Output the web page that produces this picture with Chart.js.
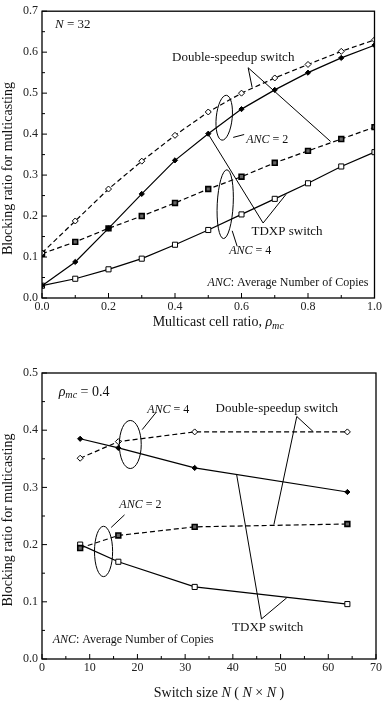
<!DOCTYPE html>
<html><head><meta charset="utf-8">
<script src="https://cdn.jsdelivr.net/npm/chart.js@4.4.1/dist/chart.umd.min.js"></script>
<style>
html,body{margin:0;padding:0;background:#fff;width:384px;height:701px;overflow:hidden}
#c1{position:absolute;left:0;top:0}
#c2{position:absolute;left:0;top:345px}
</style>
</head><body>
<canvas id="c1" width="384" height="345"></canvas>
<canvas id="c2" width="384" height="356"></canvas>
<script>
// ---------- Top chart data (N = 32) ----------
const rhoMc = [0.0, 0.1, 0.2, 0.3, 0.4, 0.5, 0.6, 0.7, 0.8, 0.9, 1.0];
const topDoubleANC2 = [0.110, 0.188, 0.266, 0.334, 0.397, 0.454, 0.500, 0.537, 0.570, 0.602, 0.630];
const topTdxpANC2   = [0.030, 0.088, 0.170, 0.254, 0.336, 0.401, 0.461, 0.508, 0.550, 0.586, 0.617];
const topDoubleANC4 = [0.108, 0.137, 0.170, 0.200, 0.232, 0.266, 0.296, 0.330, 0.359, 0.388, 0.417];
const topTdxpANC4   = [0.030, 0.047, 0.070, 0.096, 0.130, 0.166, 0.204, 0.242, 0.280, 0.321, 0.356];

// ---------- Bottom chart data (rho_mc = 0.4) ----------
const switchSizes = [8, 16, 32, 64];
const botDoubleANC4 = [0.351, 0.380, 0.397, 0.397];
const botTdxpANC4   = [0.385, 0.369, 0.334, 0.292];
const botDoubleANC2 = [0.194, 0.216, 0.231, 0.236];
const botTdxpANC2   = [0.200, 0.170, 0.126, 0.096];

const SERIF = '"Liberation Serif", "DejaVu Serif", serif';

const styles = {
  openDiamond:  {pointStyle:'rectRot', pointRadius:3, pointBackgroundColor:'#fff', pointBorderColor:'#000', pointBorderWidth:1, borderDash:[5,3]},
  fillDiamond:  {pointStyle:'rectRot', pointRadius:2.6, pointBackgroundColor:'#000', pointBorderColor:'#000', pointBorderWidth:1, borderDash:[]},
  fillSquare:   {pointStyle:'rect', pointRadius:3.4, pointBackgroundColor:'#666', pointBorderColor:'#000', pointBorderWidth:1.6, borderDash:[5,3]},
  openSquare:   {pointStyle:'rect', pointRadius:3.6, pointBackgroundColor:'#fff', pointBorderColor:'#000', pointBorderWidth:1, borderDash:[]}
};

function ds(label, xs, ys, st) {
  return Object.assign({
    label, data: xs.map((x, i) => ({x, y: ys[i]})),
    borderColor:'#000', borderWidth:1.2, fill:false, tension:0, showLine:true
  }, st);
}

function rich(ctx, parts, x, y, align, size) {
  const fontFor = p => (p.i ? 'italic ' : '') + (p.sub ? size * 0.72 : size) + 'px ' + SERIF;
  let w = 0;
  parts.forEach(p => { ctx.font = fontFor(p); w += ctx.measureText(p.t).width; });
  let cx = align === 'center' ? x - w / 2 : (align === 'right' ? x - w : x);
  ctx.textBaseline = 'middle';
  ctx.textAlign = 'left';
  parts.forEach(p => {
    ctx.font = fontFor(p);
    ctx.fillText(p.t, cx, y + (p.sub ? size * 0.28 : 0));
    cx += ctx.measureText(p.t).width;
  });
}

const framePlugin = {
  id: 'frame',
  afterDraw(chart, args, o) {
    const {ctx, chartArea: a, scales: {x, y}} = chart;
    ctx.save();
    ctx.strokeStyle = '#000';
    ctx.fillStyle = '#111';
    // box
    ctx.lineWidth = 1.3;
    ctx.strokeRect(a.left, a.top, a.right - a.left, a.bottom - a.top);
    // inward ticks
    ctx.lineWidth = 1;
    ctx.beginPath();
    for (let v = x.min; v <= x.max + 1e-9; v += o.xMinor) {
      const px = x.getPixelForValue(v);
      const major = Math.abs(Math.round(v / o.xMajor) * o.xMajor - v) < 1e-6;
      ctx.moveTo(px, a.bottom); ctx.lineTo(px, a.bottom - (major ? 5 : 3));
    }
    for (let v = y.min; v <= y.max + 1e-9; v += o.yMinor) {
      const py = y.getPixelForValue(v);
      const major = Math.abs(Math.round(v / o.yMajor) * o.yMajor - v) < 1e-6;
      ctx.moveTo(a.left, py); ctx.lineTo(a.left + (major ? 5 : 3), py);
    }
    ctx.stroke();

    // annotations
    const P = (d) => [x.getPixelForValue(d[0]), y.getPixelForValue(d[1])];
    ctx.lineWidth = 1;
    (o.lines || []).forEach(l => {
      ctx.beginPath();
      l.forEach((d, i) => { const [px, py] = P(d); i ? ctx.lineTo(px, py) : ctx.moveTo(px, py); });
      ctx.stroke();
    });
    (o.ellipses || []).forEach(e => {
      const [cx, cy] = P(e.c);
      const rx = Math.abs(x.getPixelForValue(e.c[0] + e.r[0]) - cx);
      const ry = Math.abs(y.getPixelForValue(e.c[1] + e.r[1]) - cy);
      ctx.beginPath();
      ctx.ellipse(cx, cy, rx, ry, e.rot || 0, 0, Math.PI * 2);
      ctx.stroke();
    });
    (o.texts || []).forEach(t => {
      const [px, py] = P(t.at);
      rich(ctx, t.parts, px, py, t.align, t.size);
    });

    // axis titles
    const cw = chart.width;
    rich(ctx, o.xTitle, (a.left + a.right) / 2 + 10, o.xTitleY, 'center', 14);
    ctx.save();
    ctx.translate(8, (a.top + a.bottom) / 2 + (o.yTitleShift || 0));
    ctx.rotate(-Math.PI / 2);
    rich(ctx, [{t:'Blocking ratio for multicasting'}], 0, 0, 'center', 14);
    ctx.restore();
    ctx.restore();
  }
};

function makeChart(id, datasets, sc, padding, xh, opts) {
  return new Chart(document.getElementById(id), {
    type: 'scatter',
    data: {datasets},
    options: {
      responsive: false, animation: false,
      layout: {padding},
      plugins: {legend:{display:false}, tooltip:{enabled:false}, frame: opts},
      scales: {
        x: {
          type:'linear', min: sc.xmin, max: sc.xmax,
          grid:{display:false, drawTicks:false}, border:{display:false},
          ticks:{stepSize: sc.xstep, padding: 2, color:'#222', font:{family:SERIF, size:12},
                 callback: v => sc.xfmt(v), maxRotation:0, autoSkip:false},
          afterFit: s => { s.height = xh; }
        },
        y: {
          type:'linear', min: sc.ymin, max: sc.ymax,
          grid:{display:false, drawTicks:false}, border:{display:false},
          ticks:{stepSize: sc.ystep, padding: 4, color:'#222', font:{family:SERIF, size:12},
                 callback: v => v.toFixed(1), autoSkip:false},
          afterFit: s => { s.width = 42; }
        }
      }
    },
    plugins: [framePlugin]
  });
}

// ----- top chart -----
makeChart('c1', [
  ds('Double-speedup ANC=2', rhoMc, topDoubleANC2, styles.openDiamond),
  ds('TDXP ANC=2', rhoMc, topTdxpANC2, styles.fillDiamond),
  ds('Double-speedup ANC=4', rhoMc, topDoubleANC4, styles.fillSquare),
  ds('TDXP ANC=4', rhoMc, topTdxpANC4, styles.openSquare)
], {xmin:0, xmax:1, xstep:0.2, xfmt: v => v.toFixed(1), ymin:0, ymax:0.7, ystep:0.1},
{top:7, right:8, left:0, bottom:0}, 47, {
  xMajor:0.2, xMinor:0.1, yMajor:0.1, yMinor:0.05,
  xTitle:[{t:'Multicast cell ratio, '}, {t:'ρ', i:true}, {t:'mc', i:true, sub:true}],
  xTitleY: 322, yTitleShift: 14,
  lines: [
    [[0.632,0.514],[0.620,0.562],[0.868,0.382]],
    [[0.575,0.392],[0.608,0.399]],
    [[0.572,0.164],[0.587,0.126]],
    [[0.5,0.40],[0.665,0.183],[0.734,0.253]]
  ],
  ellipses: [
    {c:[0.548,0.440], r:[0.024,0.055], rot:0.1},
    {c:[0.551,0.229], r:[0.024,0.084], rot:0.05}
  ],
  texts: [
    {at:[0.039,0.668], parts:[{t:'N', i:true},{t:' = 32'}], align:'left', size:13},
    {at:[0.575,0.586], parts:[{t:'Double-speedup switch'}], align:'center', size:13},
    {at:[0.614,0.387], parts:[{t:'ANC', i:true},{t:' = 2'}], align:'left', size:12},
    {at:[0.563,0.114], parts:[{t:'ANC', i:true},{t:' = 4'}], align:'left', size:12},
    {at:[0.737,0.162], parts:[{t:'TDXP switch'}], align:'center', size:13},
    {at:[0.982,0.037], parts:[{t:'ANC', i:true},{t:': Average Number of Copies'}], align:'right', size:12}
  ]
});

// ----- bottom chart -----
makeChart('c2', [
  ds('Double-speedup ANC=4', switchSizes, botDoubleANC4, styles.openDiamond),
  ds('TDXP ANC=4', switchSizes, botTdxpANC4, styles.fillDiamond),
  ds('Double-speedup ANC=2', switchSizes, botDoubleANC2, styles.fillSquare),
  ds('TDXP ANC=2', switchSizes, botTdxpANC2, styles.openSquare)
], {xmin:0, xmax:70, xstep:10, xfmt: v => String(v), ymin:0, ymax:0.5, ystep:0.1},
{top:28, right:6, left:0, bottom:0}, 42, {
  xMajor:10, xMinor:5, yMajor:0.1, yMinor:0.05,
  xTitle:[{t:'Switch size '}, {t:'N', i:true}, {t:' ( '}, {t:'N', i:true}, {t:' × '}, {t:'N', i:true}, {t:' )'}],
  xTitleY: 348, yTitleShift: 4,
  lines: [
    [[56.9,0.397],[53.4,0.424],[48.6,0.235]],
    [[21.0,0.401],[23.9,0.431]],
    [[17.3,0.252],[14.5,0.230]],
    [[40.8,0.322],[46.0,0.070],[51.3,0.107]]
  ],
  ellipses: [
    {c:[18.5,0.375], r:[2.3,0.042], rot:0},
    {c:[12.9,0.188], r:[1.9,0.044], rot:0}
  ],
  texts: [
    {at:[3.49,0.467], parts:[{t:'ρ', i:true},{t:'mc', i:true, sub:true},{t:' = 0.4'}], align:'left', size:14},
    {at:[22.06,0.436], parts:[{t:'ANC', i:true},{t:' = 4'}], align:'left', size:12},
    {at:[49.2,0.438], parts:[{t:'Double-speedup switch'}], align:'center', size:13},
    {at:[16.2,0.270], parts:[{t:'ANC', i:true},{t:' = 2'}], align:'left', size:12},
    {at:[47.3,0.055], parts:[{t:'TDXP switch'}], align:'center', size:13},
    {at:[2.23,0.034], parts:[{t:'ANC', i:true},{t:': Average Number of Copies'}], align:'left', size:12}
  ]
});
</script>
</body></html>
